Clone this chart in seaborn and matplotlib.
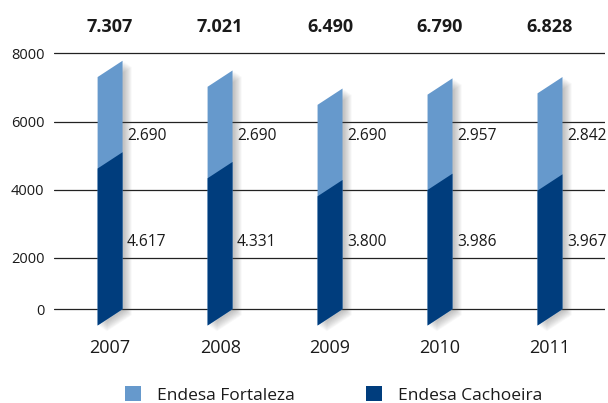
import matplotlib
matplotlib.use("Agg")
import matplotlib.pyplot as plt
import seaborn as sns
import pandas as pd
from matplotlib.patches import Polygon, Patch
from matplotlib import transforms

years = ["2007", "2008", "2009", "2010", "2011"]
fortaleza = [2690, 2690, 2690, 2957, 2842]
cachoeira = [4617, 4331, 3800, 3986, 3967]
totals = [7307, 7021, 6490, 6790, 6828]
y_ticks = [0, 2000, 4000, 6000, 8000]

LIGHT = "#6699cc"
DARK = "#003d7d"
TEXT = "#1a1a1a"
SKEW = 480          # vertical rise of the right edge of each slanted bar
BAR_W = 0.227

sns.set_theme(style="white")
plt.rcParams["font.family"] = ["Open Sans", "DejaVu Sans"]

fig = plt.figure(figsize=(6.08, 4.03), dpi=100)
ax = fig.add_axes([54 / 608, 68 / 403, 551 / 608, 295 / 403])

df = pd.DataFrame({"year": years, "total": totals, "cachoeira": cachoeira})
sns.barplot(data=df, x="year", y="total", color=LIGHT, width=BAR_W,
            saturation=1, ax=ax, zorder=3)
sns.barplot(data=df, x="year", y="cachoeira", color=DARK, width=BAR_W,
            saturation=1, ax=ax, zorder=4)

# turn the upright bars into slanted parallelograms
rects = list(ax.patches)
shapes = []
for p in rects:
    x, y = p.get_x(), p.get_y()
    w, h = p.get_width(), p.get_height()
    fc = p.get_facecolor()
    z = p.get_zorder()
    p.remove()
    verts = [(x, y), (x + w, y + SKEW), (x + w, y + h + SKEW), (x, y + h)]
    ax.add_patch(Polygon(verts, closed=True, facecolor=fc, edgecolor="none",
                         zorder=z))
    shapes.append(verts)

# soft drop shadow behind the full bars
for verts in shapes[:len(years)]:
    for k in range(1, 10):
        tr = transforms.offset_copy(ax.transData, fig=fig, x=1.0 + k * 0.9,
                                    y=-(0.5 + k * 0.6), units="dots")
        ax.add_patch(Polygon(verts, closed=True, facecolor="#555555",
                             edgecolor="none", alpha=0.045, zorder=2,
                             transform=tr))

ax.set_xlim(-0.51, 4.5)
ax.set_ylim(-279, 8397)

# horizontal guide lines; the baseline sits at the foot of the right edges
grid_pos = [SKEW if v == 0 else v for v in y_ticks]
for gy in grid_pos:
    ax.axhline(gy, color="#222222", lw=0.9, zorder=1)
ax.set_yticks(grid_pos)
ax.set_yticklabels([str(v) for v in y_ticks])
ax.tick_params(axis="y", length=0, pad=7, labelsize=10.5, labelcolor=TEXT)
ax.tick_params(axis="x", length=0, pad=3, labelsize=13, labelcolor=TEXT)
ax.set_xlabel("")
ax.set_ylabel("")
for s in ax.spines.values():
    s.set_visible(False)


def fmt(v):
    return f"{v:,}".replace(",", ".")


for i in range(len(years)):
    xr = i + BAR_W / 2 + 0.04
    ax.text(xr, 5574, fmt(fortaleza[i]), ha="left", va="center",
            fontsize=11.2, fontweight="medium", color=TEXT, zorder=5)
    ax.text(xr, 2456, fmt(cachoeira[i]), ha="left", va="center",
            fontsize=11.2, fontweight="medium", color=TEXT, zorder=5)
    ax.text(i, 8779, fmt(totals[i]), ha="center", va="center",
            fontsize=13, fontweight="bold", color=TEXT, clip_on=False)

handles = [Patch(facecolor=LIGHT, edgecolor="none", label="Endesa Fortaleza"),
           Patch(facecolor=DARK, edgecolor="none", label="Endesa Cachoeira")]
fig.legend(handles=handles, loc="center left",
           bbox_to_anchor=(125 / 608, 1 - 395 / 403), ncol=2, frameon=False,
           fontsize=12.5, handlelength=0.92, handleheight=0.9,
           handletextpad=0.92, columnspacing=4.1, borderpad=0,
           borderaxespad=0, labelcolor=TEXT)

fig.savefig("out.png", dpi=100)
